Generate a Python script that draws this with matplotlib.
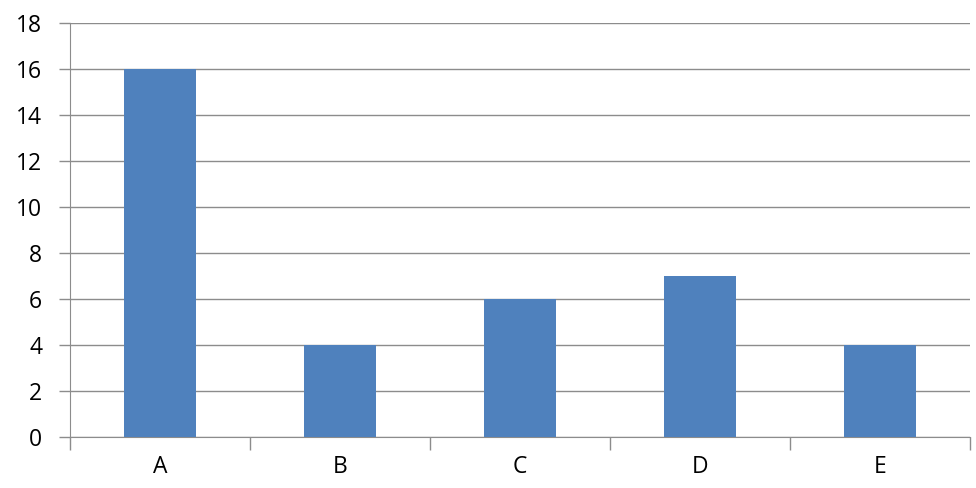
import matplotlib.pyplot as plt

# данные
categories = ['A', 'B', 'C', 'D', 'E']
values = [16, 4, 6, 7, 4]
y_ticks = list(range(0, 19, 2))

plt.rcParams['font.family'] = ['Open Sans', 'DejaVu Sans']

fig = plt.figure(figsize=(9.76, 4.88), dpi=100)
ax = fig.add_axes([70 / 976, 51 / 488, 900 / 976, 414 / 488])

x = list(range(len(categories)))
ax.bar(x, values, width=0.4, color='#4f81bd', zorder=3)

ax.set_xlim(-0.5, len(categories) - 0.5)
ax.set_ylim(0, 18)
ax.set_yticks(y_ticks)
ax.yaxis.grid(True, color='#8c8c8c', linewidth=1)
ax.set_axisbelow(True)

# метки по оси x между категориями
ax.set_xticks([i - 0.5 for i in range(len(categories) + 1)])
ax.set_xticklabels([])
ax.set_xticks(x, minor=True)
ax.set_xticklabels(categories, minor=True)
ax.tick_params(axis='x', which='major', length=9, color='#8c8c8c', width=1)
ax.tick_params(axis='x', which='minor', length=0, pad=13, labelsize=16.5)
ax.tick_params(axis='y', length=8, color='#8c8c8c', width=1, pad=12, labelsize=16.5)

for s in ['top', 'right']:
    ax.spines[s].set_visible(False)
for s in ['left', 'bottom']:
    ax.spines[s].set_color('#8c8c8c')

fig.savefig('out.png', dpi=100)
